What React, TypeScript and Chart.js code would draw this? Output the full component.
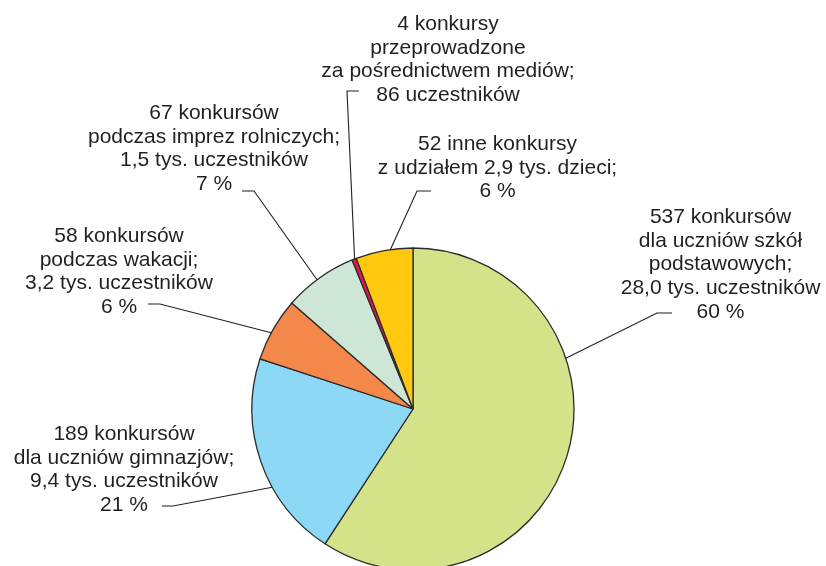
import React, { useEffect, useRef } from "react";
import { Chart, registerables } from "chart.js";

Chart.register(...registerables);

// Konkursy: liczba konkursów w poszczególnych grupach
const categories = [
  "dla uczniów szkół podstawowych",
  "dla uczniów gimnazjów",
  "podczas wakacji",
  "podczas imprez rolniczych",
  "za pośrednictwem mediów",
  "inne konkursy",
];
const contestCounts = [537, 189, 58, 67, 4, 52];
const sliceColors = ["#D4E28A", "#8DD8F4", "#F4874A", "#CDE6D6", "#E3174E", "#FFC80F"];

// Opisy wycinków (kolejne wiersze)
const labelLines: string[][] = [
  ["537 konkursów", "dla uczniów szkół", "podstawowych;", "28,0 tys. uczestników", "60 %"],
  ["189 konkursów", "dla uczniów gimnazjów;", "9,4 tys. uczestników", "21 %"],
  ["58 konkursów", "podczas wakacji;", "3,2 tys. uczestników", "6 %"],
  ["67 konkursów", "podczas imprez rolniczych;", "1,5 tys. uczestników", "7 %"],
  ["4 konkursy", "przeprowadzone", "za pośrednictwem mediów;", "86 uczestników"],
  ["52 inne konkursy", "z udziałem 2,9 tys. dzieci;", "6 %"],
];

// Rozmieszczenie opisów: środek tekstu, linia bazowa pierwszego wiersza,
// odcinek poziomy linii odniesienia i miejsce zaczepienia na łuku (ułamek kąta wycinka)
const labelLayout = [
  { cx: 720.5, y0: 223, stub: [672, 313, 657, 313], t: 0.336 },
  { cx: 124, y0: 440, stub: [162, 506, 173, 506], t: 0.37 },
  { cx: 119, y0: 242, stub: [148, 304, 160, 304], t: 0.44 },
  { cx: 214, y0: 119, stub: [242, 191, 254, 191], t: 0.46 },
  { cx: 448, y0: 30, stub: [359, 91, 347, 91], t: 0.6 },
  { cx: 497.5, y0: 150, stub: [431, 191, 417, 191], t: 0.61 },
];

const LINE_H = 23.7;
const TEXT_COLOR = "#231F20";

const labelsPlugin = {
  id: "sliceLabels",
  afterDatasetsDraw(chart: any) {
    const ctx = chart.ctx as CanvasRenderingContext2D;
    const meta = chart.getDatasetMeta(0);
    ctx.save();
    ctx.font = '21px "Liberation Sans", Arial, Helvetica, sans-serif';
    ctx.fillStyle = TEXT_COLOR;
    ctx.textAlign = "center";
    ctx.textBaseline = "alphabetic";
    ctx.strokeStyle = TEXT_COLOR;
    ctx.lineWidth = 1.1;
    meta.data.forEach((arc: any, i: number) => {
      const lay = labelLayout[i];
      const lines = labelLines[i];
      lines.forEach((line, k) => {
        ctx.fillText(line, lay.cx, lay.y0 + k * LINE_H);
      });
      const { x, y, startAngle, endAngle, outerRadius } = arc.getProps(
        ["x", "y", "startAngle", "endAngle", "outerRadius"],
        true
      );
      const a = startAngle + (endAngle - startAngle) * lay.t;
      const ax = x + Math.cos(a) * outerRadius;
      const ay = y + Math.sin(a) * outerRadius;
      const [sx0, sy0, sx1, sy1] = lay.stub;
      ctx.beginPath();
      ctx.moveTo(sx0, sy0);
      ctx.lineTo(sx1, sy1);
      ctx.lineTo(ax, ay);
      ctx.stroke();
    });
    ctx.restore();
  },
};

export default function App() {
  const canvasRef = useRef<HTMLCanvasElement | null>(null);

  useEffect(() => {
    const prevMargin = document.body.style.margin;
    document.body.style.margin = "0";
    const canvas = canvasRef.current;
    if (!canvas) return;
    const chart = new Chart(canvas, {
      type: "pie",
      data: {
        labels: categories,
        datasets: [
          {
            data: contestCounts,
            backgroundColor: sliceColors,
            borderColor: "#2B2B2B",
            borderWidth: 1.3,
            radius: 161,
            clip: false as any,
          } as any,
        ],
      },
      options: {
        responsive: false,
        animation: false,
        layout: { padding: { top: 252, bottom: 0, left: 0, right: 0 } },
        plugins: {
          legend: { display: false },
          tooltip: { enabled: false },
        },
      },
      plugins: [labelsPlugin],
    });
    return () => {
      chart.destroy();
      document.body.style.margin = prevMargin;
    };
  }, []);

  return (
    <div style={{ position: "fixed", left: 0, top: 0, width: 826, height: 566, background: "#fff" }}>
      <canvas ref={canvasRef} width={826} height={566} style={{ display: "block" }} />
    </div>
  );
}
